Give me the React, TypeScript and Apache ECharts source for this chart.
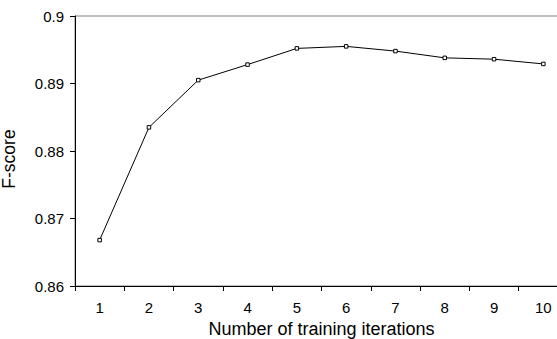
import React, { useEffect, useRef } from "react";
import * as echarts from "echarts";

const iterations = ["1", "2", "3", "4", "5", "6", "7", "8", "9", "10"];
const fScores = [0.8668, 0.8835, 0.8905, 0.8928, 0.8952, 0.8955, 0.8948, 0.8938, 0.8936, 0.8929];
const yTicks = { min: 0.86, max: 0.9, interval: 0.01 };

const FONT = "'Liberation Sans', Arial, sans-serif";

export default function App() {
  const ref = useRef<HTMLDivElement>(null);
  useEffect(() => {
    document.body.style.margin = "0";
    const chart = echarts.init(ref.current!, null, { renderer: "svg" });
    chart.setOption({
      animation: false,
      backgroundColor: "#ffffff",
      grid: {
        left: 75,
        right: -11,
        top: 16,
        bottom: 53,
        containLabel: false,
        outerBoundsMode: "none",
        show: true,
        borderColor: "#808080",
        borderWidth: 1,
        backgroundColor: "transparent",
      },
      xAxis: {
        type: "category",
        data: iterations,
        boundaryGap: true,
        name: "Number of training iterations",
        nameLocation: "middle",
        nameGap: 33,
        nameTextStyle: { fontFamily: FONT, fontSize: 18, color: "#000" },
        axisLine: { lineStyle: { color: "#000", width: 1 } },
        axisTick: { show: true, length: 5, lineStyle: { color: "#000" } },
        axisLabel: { fontFamily: FONT, fontSize: 15, color: "#000", margin: 14 },
        splitLine: { show: false },
      },
      yAxis: {
        type: "value",
        min: yTicks.min,
        max: yTicks.max,
        interval: yTicks.interval,
        name: "F-score",
        nameLocation: "middle",
        nameGap: 57,
        nameTextStyle: { fontFamily: FONT, fontSize: 17.5, color: "#000", padding: [0, 16, 0, 0] },
        axisLine: { show: true, lineStyle: { color: "#000", width: 1 } },
        axisTick: { show: true, length: 5, lineStyle: { color: "#000" } },
        axisLabel: {
          fontFamily: FONT,
          fontSize: 15,
          color: "#000",
          margin: 11,
          formatter: (v: number) => String(parseFloat(v.toFixed(2))),
        },
        splitLine: { show: false },
      },
      series: [
        {
          type: "line",
          data: fScores,
          symbol: "rect",
          symbolSize: 3.5,
          showAllSymbol: true,
          lineStyle: { color: "#000", width: 1 },
          itemStyle: { color: "#fff", borderColor: "#000", borderWidth: 1 },
        },
      ],
    });
    return () => chart.dispose();
  }, []);
  return <div ref={ref} style={{ position: "fixed", left: 0, top: 0, width: 557, height: 339 }} />;
}
